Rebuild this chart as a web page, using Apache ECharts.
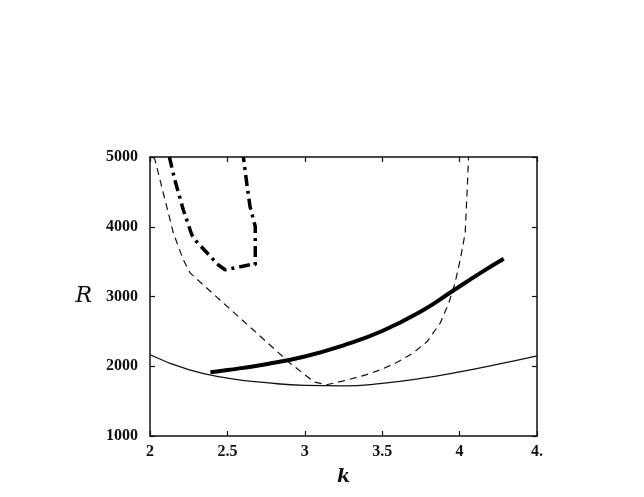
<!DOCTYPE html>
<html lang="en" style="height: 100%">
  <head>
    <meta charset="utf-8" />
  </head>
  <body style="margin: 0; height: 100%; background: #fff">
    <div id="container" style="width: 644px; height: 497px"></div>
    <script type="text/javascript" src="https://cdn.jsdelivr.net/npm/echarts@6/dist/echarts.min.js"></script>
    <script type="text/javascript">
      // tick labels as printed (last one is clipped in the original)
      var kTickLabels = ["2", "2.5", "3", "3.5", "4", "4."];

      // thin solid curve
      var thinK = [2.0, 2.25, 2.5, 2.75, 3.0, 3.25, 3.5, 3.75, 4.0, 4.25, 4.5];
      var thinR = [2165, 1950, 1830, 1765, 1725, 1718, 1755, 1825, 1920, 2030, 2150];

      // thick solid curve
      var thickK = [2.39, 2.5, 2.75, 3.0, 3.25, 3.5, 3.75, 3.95, 4.133, 4.285];
      var thickR = [1915, 1945, 2030, 2140, 2300, 2505, 2785, 3071, 3335, 3540];

      // thin dashed curve
      var dashK = [2.02, 2.032, 2.086, 2.151, 2.215, 2.26, 2.905, 3.06, 3.14, 3.25, 3.4, 3.5,
        3.6, 3.7, 3.79, 3.875, 3.93, 3.97, 4.004, 4.036, 4.051, 4.058];
      var dashR = [5000, 4961, 4483, 3910, 3526, 3335, 2044, 1775, 1735, 1790, 1880, 1960,
        2060, 2190, 2354, 2620, 2905, 3192, 3526, 3910, 4627, 5000];

      // thick dash-dot curve
      var dotK = [2.125, 2.16, 2.215, 2.27, 2.29, 2.44, 2.485, 2.646, 2.68, 2.68, 2.646, 2.625, 2.603];
      var dotR = [5000, 4674, 4244, 3885, 3813, 3455, 3383, 3455, 3455, 4004, 4291, 4627, 5000];

      function pairs(xs, ys) {
        return xs.map(function (x, i) { return [x, ys[i]]; });
      }

      var dom = document.getElementById("container");
      var myChart = echarts.init(dom, null, { renderer: "canvas" });

      var labelFont = {
        fontFamily: "Liberation Serif",
        fontSize: 16,
        fontWeight: "bold",
        color: "#111",
      };
      var axisLine = { show: true, lineStyle: { color: "#111", width: 1.5 } };
      var axisTick = { show: true, inside: true, length: 5, lineStyle: { color: "#111", width: 1.2 } };

      var option = {
        animation: false,
        backgroundColor: "#fff",
        grid: { left: 150, right: 107, top: 157, bottom: 61 },
        xAxis: [
          {
            type: "value",
            min: 2,
            max: 4.5,
            interval: 0.5,
            name: "k",
            nameLocation: "middle",
            nameGap: 32,
            nameMoveOverlap: false,
            nameTextStyle: { fontFamily: "DejaVu Serif", fontStyle: "italic", fontWeight: "bold", fontSize: 19, color: "#111" },
            axisLine: axisLine,
            axisTick: axisTick,
            splitLine: { show: false },
            axisLabel: Object.assign({ margin: 8, formatter: function (v, i) { return kTickLabels[i]; } }, labelFont),
          },
          {
            type: "value",
            position: "top",
            min: 2,
            max: 4.5,
            interval: 0.5,
            axisLine: axisLine,
            axisTick: axisTick,
            splitLine: { show: false },
            axisLabel: { show: false },
          },
        ],
        yAxis: [
          {
            type: "value",
            min: 1000,
            max: 5000,
            interval: 1000,
            name: "R",
            nameLocation: "middle",
            nameRotate: 0,
            nameGap: 58,
            nameMoveOverlap: false,
            nameTextStyle: { fontFamily: "DejaVu Serif", fontStyle: "italic", fontSize: 22, color: "#111" },
            axisLine: axisLine,
            axisTick: axisTick,
            splitLine: { show: false },
            axisLabel: Object.assign({ margin: 12, formatter: function (v) { return String(v); } }, labelFont),
          },
          {
            type: "value",
            position: "right",
            min: 1000,
            max: 5000,
            interval: 1000,
            axisLine: axisLine,
            axisTick: axisTick,
            splitLine: { show: false },
            axisLabel: { show: false },
          },
        ],
        series: [
          {
            type: "line",
            data: pairs(thinK, thinR),
            smooth: true,
            symbol: "none",
            lineStyle: { color: "#111", width: 1.3 },
          },
          {
            type: "line",
            data: pairs(thickK, thickR),
            smooth: true,
            symbol: "none",
            lineStyle: { color: "#000", width: 4 },
          },
          {
            type: "line",
            data: pairs(dashK, dashR),
            symbol: "none",
            lineStyle: { color: "#111", width: 1.2, type: [7, 5] },
          },
          {
            type: "line",
            data: pairs(dotK, dotR),
            symbol: "none",
            lineStyle: { color: "#000", width: 3.5, type: [11, 5, 3, 5] },
          },
        ],
      };

      myChart.setOption(option);
      window.addEventListener("resize", myChart.resize);
    </script>
  </body>
</html>
